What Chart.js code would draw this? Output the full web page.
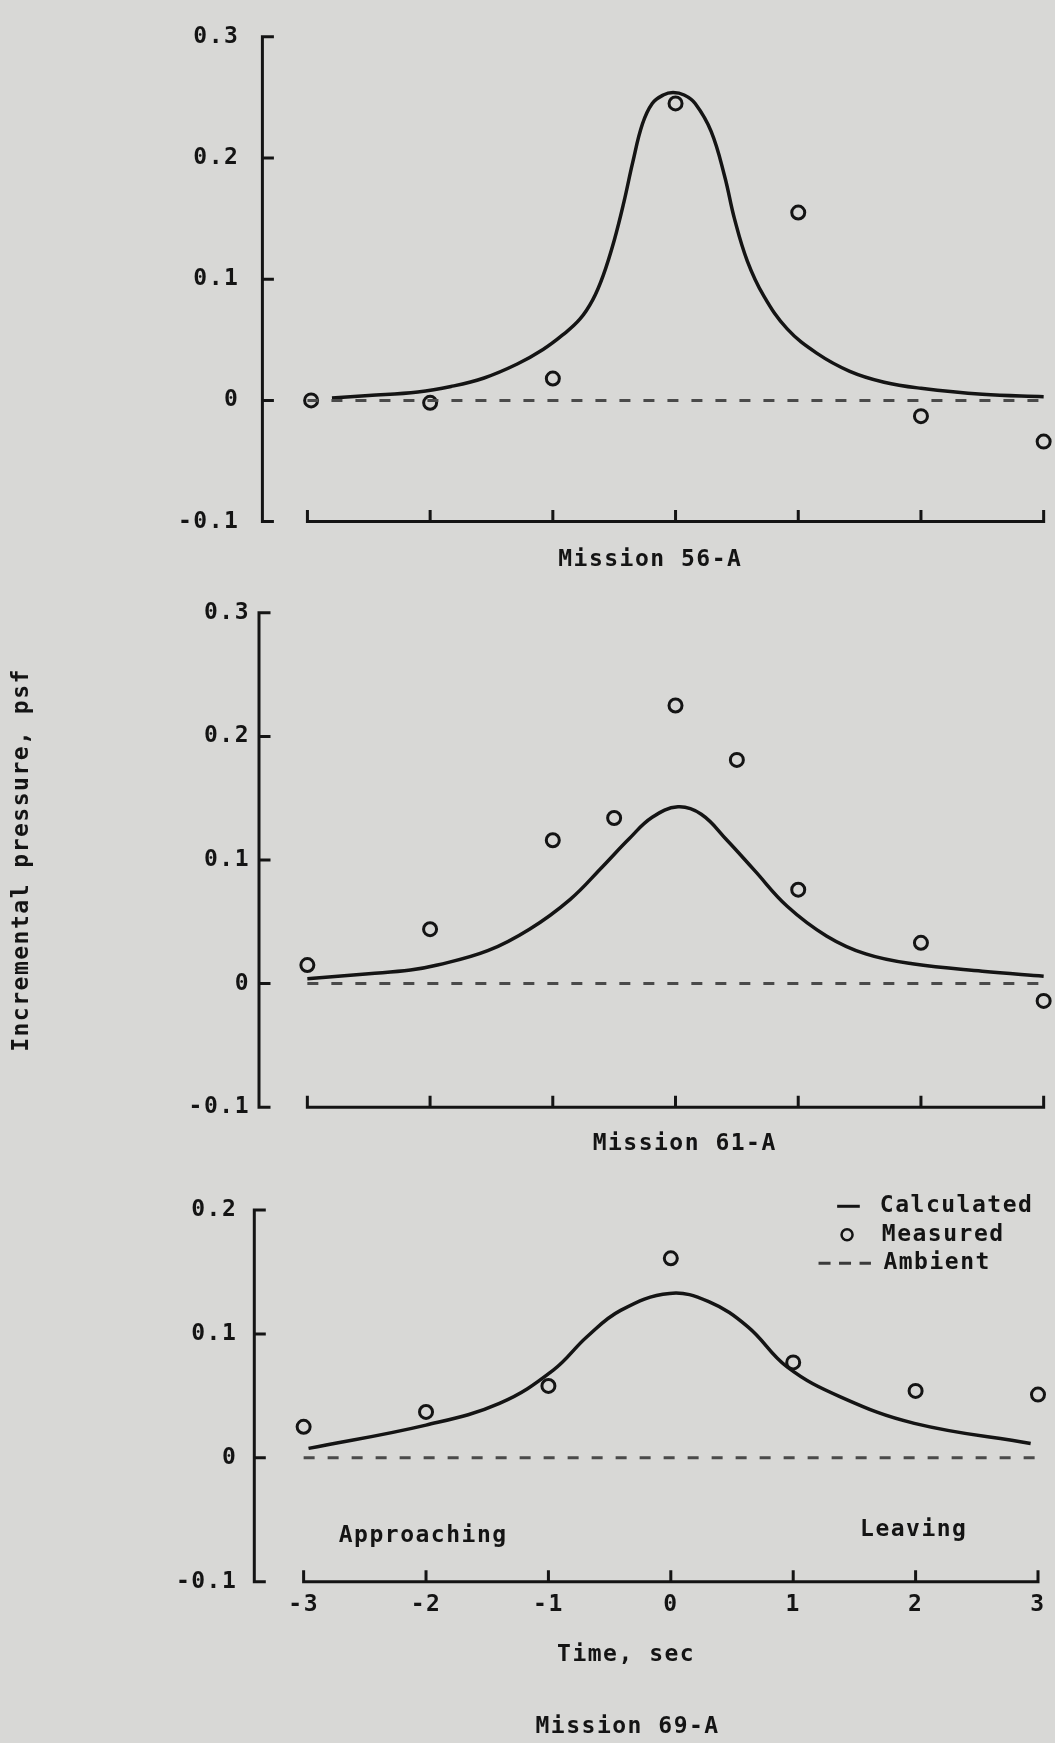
<!DOCTYPE html>
<html>
<head>
<meta charset="utf-8">
<script src="https://cdn.jsdelivr.net/npm/chart.js@4.4.1/dist/chart.umd.min.js"></script>
<style>
  html, body { margin: 0; padding: 0; background: #d8d8d6; }
  body { width: 1055px; height: 1743px; position: relative; overflow: hidden; }
  canvas { position: absolute; left: 0; }
</style>
</head>
<body>
<canvas id="m56" width="1055" height="590" style="top:0px"></canvas>
<canvas id="m61" width="1055" height="580" style="top:590px"></canvas>
<canvas id="m69" width="1055" height="573" style="top:1170px"></canvas>
<script>
// time axis (sec)
var timeTicks = [-3, -2, -1, 0, 1, 2, 3];
var timeLabels = ["-3", "-2", "-1", "0", "1", "2", "3"];

// pressure ticks (psf)
var pTicks3 = [-0.1, 0, 0.1, 0.2, 0.3];
var pLabels3 = ["-0.1", "0", "0.1", "0.2", "0.3"];
var pTicks2 = [-0.1, 0, 0.1, 0.2];
var pLabels2 = ["-0.1", "0", "0.1", "0.2"];

// ambient
var ambientT = [-3, 3];
var ambientP = [0, 0];

// Mission 56-A
var calc56T = [-2.8, -2.5, -2.1, -1.83, -1.56, -1.29, -1.08, -0.92, -0.78, -0.675, -0.59, -0.5, -0.42, -0.35, -0.27, -0.19, -0.1, -0.02, 0.07, 0.16, 0.29, 0.4, 0.48, 0.585, 0.72, 0.91, 1.15, 1.42, 1.7, 2.0, 2.5, 3.0];
var calc56P = [0.002, 0.004, 0.007, 0.0115, 0.0185, 0.03, 0.042, 0.054, 0.067, 0.083, 0.103, 0.132, 0.164, 0.196, 0.228, 0.245, 0.252, 0.254, 0.252, 0.245, 0.222, 0.185, 0.15, 0.115, 0.086, 0.059, 0.039, 0.024, 0.015, 0.01, 0.005, 0.003];
var meas56T = [-2.97, -2, -1, 0, 1, 2, 3];
var meas56P = [0, -0.002, 0.018, 0.245, 0.155, -0.013, -0.034];

// Mission 61-A
var calc61T = [-3.0, -2.5, -2.16, -1.94, -1.53, -1.19, -0.86, -0.595, -0.38, -0.19, 0.02, 0.21, 0.42, 0.64, 0.91, 1.23, 1.55, 1.93, 2.5, 3.0];
var calc61P = [0.004, 0.008, 0.011, 0.015, 0.0266, 0.044, 0.068, 0.0946, 0.117, 0.1346, 0.143, 0.137, 0.116, 0.092, 0.0626, 0.0386, 0.024, 0.016, 0.01, 0.006];
var meas61T = [-3, -2, -1, -0.5, 0, 0.5, 1, 2, 3];
var meas61P = [0.015, 0.044, 0.116, 0.134, 0.225, 0.181, 0.076, 0.033, -0.014];

// Mission 69-A
var calc69T = [-2.96, -2.0, -1.4, -0.96, -0.685, -0.41, -0.01, 0.31, 0.63, 0.95, 1.39, 1.99, 2.94];
var calc69P = [0.0076, 0.0264, 0.044, 0.0708, 0.0977, 0.119, 0.1327, 0.126, 0.1057, 0.0734, 0.049, 0.0278, 0.0116];
var meas69T = [-3, -2, -1, 0, 1, 2, 3];
var meas69P = [0.025, 0.037, 0.058, 0.161, 0.077, 0.054, 0.051];

var ink = "#141414";
var face = "\"DejaVu Sans Mono\", monospace";

function pts(ts, ps) {
  return ts.map(function (t, i) { return { x: t, y: ps[i] }; });
}

// axes drawn the old way: ticks pointing inward, x axis detached from y axis
var paperAxes = {
  id: "paperAxes",
  beforeDraw: function (chart) {
    chart.ctx.letterSpacing = "1.5px";
  },
  beforeDatasetsDraw: function (chart, args, o) {
    var ctx = chart.ctx, a = chart.chartArea, x = chart.scales.x, y = chart.scales.y;
    var yTop = y.getPixelForValue(o.yTicks[o.yTicks.length - 1]);
    var yBot = y.getPixelForValue(o.yTicks[0]);
    ctx.save();
    ctx.strokeStyle = ink;
    ctx.lineWidth = 3;
    ctx.lineCap = "square";
    ctx.beginPath();
    ctx.moveTo(a.left, yTop);
    ctx.lineTo(a.left, yBot);
    o.yTicks.forEach(function (v) {
      var py = y.getPixelForValue(v);
      ctx.moveTo(a.left, py);
      ctx.lineTo(a.left + 10, py);
    });
    ctx.moveTo(x.getPixelForValue(timeTicks[0]), yBot);
    ctx.lineTo(x.getPixelForValue(timeTicks[timeTicks.length - 1]), yBot);
    timeTicks.forEach(function (t) {
      var px = x.getPixelForValue(t);
      ctx.moveTo(px, yBot);
      ctx.lineTo(px, yBot - 10);
    });
    ctx.stroke();
    ctx.restore();
  },
  afterDraw: function (chart, args, o) {
    var ctx = chart.ctx, x = chart.scales.x, y = chart.scales.y;
    ctx.save();
    ctx.fillStyle = ink;
    ctx.font = "bold 23px " + face;
    ctx.letterSpacing = "1.5px";
    ctx.textBaseline = "middle";
    (o.notes || []).forEach(function (n) {
      ctx.textAlign = n.align || "center";
      ctx.fillText(n.text, x.getPixelForValue(n.t), y.getPixelForValue(n.p));
    });
    if (o.legend) {
      var L = o.legend;
      ctx.strokeStyle = ink;
      ctx.lineWidth = 3;
      ctx.beginPath();
      ctx.moveTo(x.getPixelForValue(L.line[0]), y.getPixelForValue(L.rows[0]));
      ctx.lineTo(x.getPixelForValue(L.line[1]), y.getPixelForValue(L.rows[0]));
      ctx.stroke();
      ctx.lineWidth = 2.5;
      ctx.beginPath();
      ctx.arc(x.getPixelForValue(L.dot), y.getPixelForValue(L.rows[1]), 5.5, 0, Math.PI * 2);
      ctx.stroke();
      ctx.strokeStyle = "#3a3a3a";
      ctx.lineWidth = 3;
      ctx.setLineDash([12, 8.5]);
      ctx.beginPath();
      ctx.moveTo(x.getPixelForValue(L.dash[0]), y.getPixelForValue(L.rows[2]));
      ctx.lineTo(x.getPixelForValue(L.dash[1]), y.getPixelForValue(L.rows[2]));
      ctx.stroke();
      ctx.setLineDash([]);
      ctx.textAlign = "left";
      L.labels.forEach(function (s, i) {
        ctx.fillText(s, x.getPixelForValue(L.textT[i]), y.getPixelForValue(L.rows[i]));
      });
    }
    ctx.restore();
  }
};

function makeChart(id, cfg) {
  var datasets = [
    {
      label: "Ambient",
      data: pts(ambientT, ambientP),
      showLine: true,
      borderColor: "#4a4a4a",
      borderWidth: 3,
      borderDash: [11, 13],
      pointRadius: 0,
      clip: false
    },
    {
      label: "Calculated",
      data: pts(cfg.calcT, cfg.calcP),
      showLine: true,
      borderColor: ink,
      borderWidth: 3.5,
      tension: 0.4,
      pointRadius: 0,
      clip: false
    },
    {
      label: "Measured",
      data: pts(cfg.measT, cfg.measP),
      showLine: false,
      borderColor: ink,
      backgroundColor: "rgba(0,0,0,0)",
      borderWidth: 3,
      pointRadius: 6.5,
      clip: false
    }
  ];

  return new Chart(id, {
    type: "scatter",
    data: { datasets: datasets },
    options: {
      responsive: false,
      animation: false,
      events: [],
      layout: { padding: { top: cfg.top, left: 0, right: 0, bottom: 0 } },
      plugins: {
        legend: { display: false },
        tooltip: { enabled: false },
        paperAxes: { yTicks: cfg.yTicks, notes: cfg.notes, legend: cfg.legend }
      },
      scales: {
        x: {
          type: "linear",
          min: cfg.xMin,
          max: cfg.xMax,
          grid: { display: false, drawTicks: false },
          border: { display: false },
          afterBuildTicks: function (s) { s.ticks = timeTicks.map(function (v) { return { value: v }; }); },
          afterFit: function (s) { s.height = cfg.xHeight; },
          ticks: {
            display: cfg.showTime,
            padding: 10,
            color: ink,
            font: { family: face, size: 23, weight: "bold" },
            callback: function (v, i) { return timeLabels[i]; }
          }
        },
        y: {
          type: "linear",
          min: cfg.yTicks[0],
          max: cfg.yTicks[cfg.yTicks.length - 1],
          grid: { display: false, drawTicks: false },
          border: { display: false },
          afterBuildTicks: function (s) { s.ticks = cfg.yTicks.map(function (v) { return { value: v }; }); },
          afterFit: function (s) { s.width = cfg.yWidth; },
          ticks: {
            padding: cfg.tickPad,
            color: ink,
            font: { family: face, size: 23, weight: "bold" },
            callback: function (v, i) { return cfg.yLabels[i]; }
          },
          title: {
            display: !!cfg.yTitle,
            text: cfg.yTitle || "",
            color: ink,
            padding: { top: 8, bottom: 0 },
            font: { family: face, size: 23, weight: "bold" }
          }
        }
      }
    },
    plugins: [paperAxes]
  });
}

makeChart("m56", {
  calcT: calc56T, calcP: calc56P, measT: meas56T, measP: meas56P,
  yTicks: pTicks3, yLabels: pLabels3,
  xMin: -3.367, xMax: 3.015, top: 24, xHeight: 68.4, yWidth: 262.4, tickPad: 23,
  showTime: false,
  notes: [{ text: "Mission 56-A", t: -0.206, p: -0.132 }]
});

makeChart("m61", {
  calcT: calc61T, calcP: calc61P, measT: meas61T, measP: meas61P,
  yTicks: pTicks3, yLabels: pLabels3,
  xMin: -3.394, xMax: 3.015, top: 17.7, xHeight: 62.8, yWidth: 259, tickPad: 9,
  showTime: false,
  yTitle: "Incremental pressure, psf",
  notes: [{ text: "Mission 61-A", t: 0.075, p: -0.13 }]
});

makeChart("m69", {
  calcT: calc69T, calcP: calc69P, measT: meas69T, measP: meas69P,
  yTicks: pTicks2, yLabels: pLabels2,
  xMin: -3.403, xMax: 3.054, top: 40, xHeight: 161.3, yWidth: 254.3, tickPad: 17,
  showTime: true,
  notes: [
    { text: "Approaching", t: -2.713, p: -0.063, align: "left" },
    { text: "Leaving", t: 1.546, p: -0.058, align: "left" },
    { text: "Time, sec", t: -0.365, p: -0.159 },
    { text: "Mission 69-A", t: -0.353, p: -0.217 }
  ],
  legend: {
    labels: ["Calculated", "Measured", "Ambient"],
    rows: [0.203, 0.18, 0.157],
    textT: [1.708, 1.724, 1.737],
    line: [1.359, 1.544],
    dot: 1.44,
    dash: [1.207, 1.635]
  }
});
</script>
</body>
</html>
